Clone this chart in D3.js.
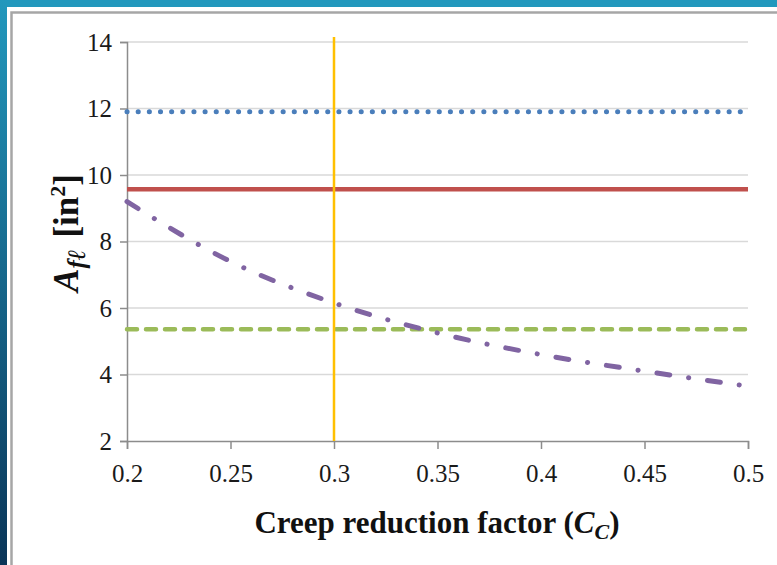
<!DOCTYPE html>
<html>
<head>
<meta charset="utf-8">
<script src="https://cdn.jsdelivr.net/npm/d3@7"></script>
<style>
  body { margin: 0; background: #fff; }
  svg { display: block; }
</style>
</head>
<body>
<div id="chart"></div>
<script>
// values
const ccValues   = [0.2, 0.25, 0.3, 0.35, 0.4, 0.45, 0.5];
const creepCurve = [9.2, 7.4, 6.15, 5.25, 4.6, 4.1, 3.65];
const blueLevel  = [11.9, 11.9];
const redLevel   = [9.57, 9.57];
const greenLevel = [5.36, 5.36];
const designCc   = [0.3, 0.3];
const designSpan = [2, 14.15];
const xTicks = [0.2, 0.25, 0.3, 0.35, 0.4, 0.45, 0.5];
const yTicks = [2, 4, 6, 8, 10, 12, 14];
const xEnds  = [0.2, 0.5];

let width = 777, height = 565;

let svg = d3.select("#chart").append("svg")
    .attr("width", width)
    .attr("height", height);

// slide-like frame
let defs = svg.append("defs");
let grad = defs.append("linearGradient")
    .attr("id", "side")
    .attr("x1", 0).attr("y1", 0).attr("x2", 0).attr("y2", 1);
grad.append("stop").attr("offset", "0%").attr("stop-color", "#2298bd");
grad.append("stop").attr("offset", "100%").attr("stop-color", "#0a3558");

svg.append("rect").attr("x", 0).attr("y", 0).attr("width", width).attr("height", 7).attr("fill", "#2298bd");
svg.append("rect").attr("x", 0).attr("y", 0).attr("width", 7).attr("height", height).attr("fill", "url(#side)");
svg.append("rect")
    .attr("x", 11.5).attr("y", 12.5)
    .attr("width", width + 20).attr("height", height + 20)
    .attr("fill", "none")
    .attr("stroke", "#a6a6a6")
    .attr("stroke-width", 2.5);

let x = d3.scaleLinear().domain([0.2, 0.5]).range([127, 748]);
let y = d3.scaleLinear().domain([2, 14]).range([441, 42]);

// gridlines
svg.append("g")
    .selectAll("line")
    .data(yTicks.slice(1))
    .enter().append("line")
    .attr("x1", x(0.2)).attr("x2", x(0.5))
    .attr("y1", (d) => y(d)).attr("y2", (d) => y(d))
    .attr("stroke", "#d9d9d9")
    .attr("stroke-width", 1.5);

let serif = "'Liberation Serif', 'Times New Roman', serif";

let yAxis = svg.append("g")
    .attr("transform", `translate(${ x(0.2) }, 0)`)
    .call(d3.axisLeft(y).tickValues(yTicks).tickSize(7).tickPadding(8).tickFormat(d3.format("d")));

let xAxis = svg.append("g")
    .attr("transform", `translate(0, ${ y(2) })`)
    .call(d3.axisBottom(x).tickValues(xTicks).tickSize(8).tickPadding(15).tickFormat((d) => String(d)));

[yAxis, xAxis].forEach((a) => {
  a.select(".domain").attr("stroke", "#8c8c8c").attr("stroke-width", 1.5);
  a.selectAll(".tick line").attr("stroke", "#8c8c8c").attr("stroke-width", 1.5);
  a.selectAll(".tick text")
      .attr("fill", "#1a1a1a")
      .style("font-family", serif)
      .style("font-size", "25px");
});
yAxis.selectAll(".tick text").attr("dy", "0.33em");

let line = d3.line()
    .x((d) => x(d[0]))
    .y((d) => y(d[1]));

function level(vals) { return xEnds.map((c, i) => [c, vals[i]]); }

svg.append("path")
    .datum(level(blueLevel))
    .attr("d", line)
    .attr("fill", "none")
    .attr("stroke", "#4a7ebb")
    .attr("stroke-width", 5)
    .attr("stroke-linecap", "round")
    .attr("stroke-dasharray", "0.1 11.05");

svg.append("path")
    .datum(level(redLevel))
    .attr("d", line)
    .attr("fill", "none")
    .attr("stroke", "#c0504d")
    .attr("stroke-width", 4.5);

svg.append("path")
    .datum(level(greenLevel))
    .attr("d", line)
    .attr("fill", "none")
    .attr("stroke", "#9bbb59")
    .attr("stroke-width", 4.5)
    .attr("stroke-linecap", "round")
    .attr("stroke-dasharray", "10 9");

svg.append("path")
    .datum(ccValues.map((c, i) => [c, creepCurve[i]]))
    .attr("d", line.curve(d3.curveMonotoneX))
    .attr("fill", "none")
    .attr("stroke", "#8064a2")
    .attr("stroke-width", 5)
    .attr("stroke-linecap", "round")
    .attr("stroke-dasharray", "13 19 0.1 19");

line.curve(d3.curveLinear);

svg.append("path")
    .datum(designCc.map((c, i) => [c, designSpan[i]]))
    .attr("d", line)
    .attr("fill", "none")
    .attr("stroke", "#ffc000")
    .attr("stroke-width", 2.5);

// axis titles
let xt = svg.append("text")
    .attr("x", 437)
    .attr("y", 533)
    .attr("text-anchor", "middle")
    .style("font-family", serif)
    .attr("font-weight", "bold")
    .attr("font-size", 31)
    .attr("fill", "#111");
xt.append("tspan").text("Creep reduction factor (");
xt.append("tspan").attr("font-style", "italic").text("C");
xt.append("tspan").attr("font-style", "italic").attr("font-size", 22).attr("dy", 6).text("C");
xt.append("tspan").attr("dy", -6).text(")");

let yt = svg.append("text")
    .attr("transform", "translate(78, 233) rotate(-90)")
    .attr("text-anchor", "middle")
    .style("font-family", serif)
    .attr("font-weight", "bold")
    .attr("font-size", 35)
    .attr("fill", "#111");
yt.append("tspan").attr("font-style", "italic").text("A");
yt.append("tspan").attr("font-style", "italic").attr("font-size", 25).attr("dy", 7).text("fℓ");
yt.append("tspan").attr("dy", -7).attr("dx", 12).text("[in");
yt.append("tspan").attr("font-size", 22).attr("dy", -13).text("2");
yt.append("tspan").attr("dy", 13).text("]");
</script>
</body>
</html>
